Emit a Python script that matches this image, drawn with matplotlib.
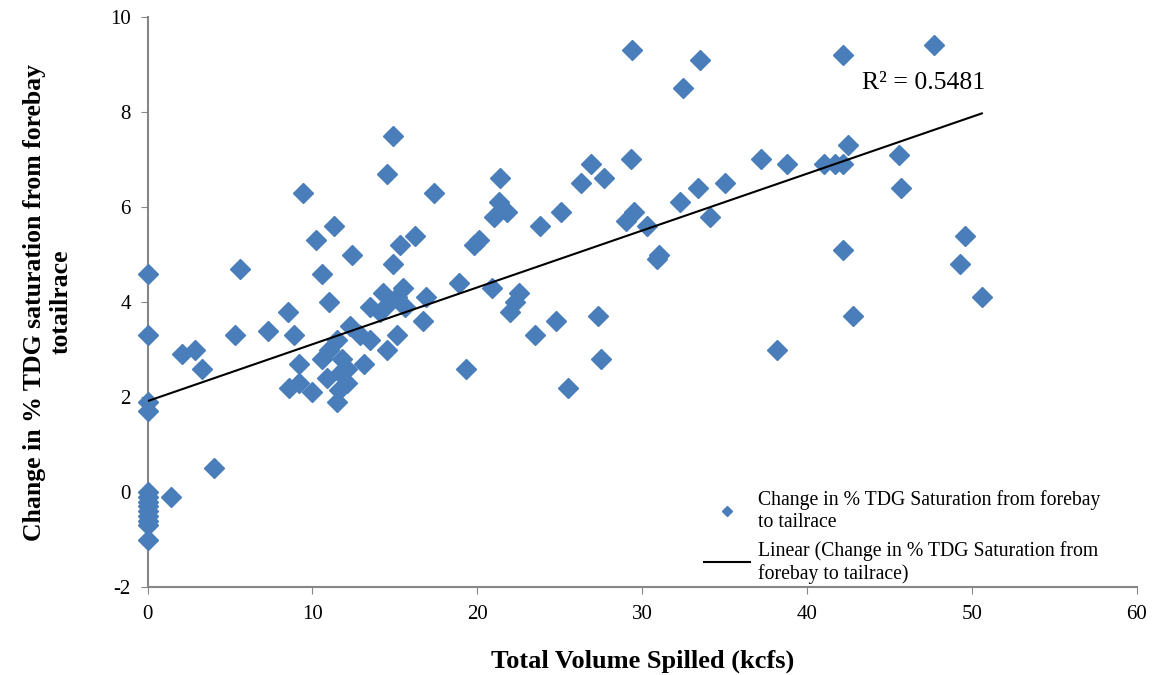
import numpy as np
import matplotlib as mpl
import matplotlib.pyplot as plt

mpl.use("Agg")
plt.rcParams.update(
    {
        "font.family": ["Liberation Serif", "DejaVu Serif"],
        "font.size": 15,
        "axes.unicode_minus": False,
        "axes.spines.top": False,
        "axes.spines.right": False,
        "axes.edgecolor": "#868686",
        "xtick.color": "#868686",
        "ytick.color": "#868686",
        "xtick.labelcolor": "black",
        "ytick.labelcolor": "black",
        "xtick.major.size": 5,
        "ytick.major.size": 5,
        "xtick.major.pad": 8,
        "ytick.major.pad": 7,
    }
)

# spill volume (kcfs) vs change in % TDG saturation
spilled = [
    0, 0, 0, 0, 0, 0, 0, 0, 0, 0, 0, 0, 0, 1.4,
    2.1, 2.9, 3.3, 4.0, 5.3, 5.6, 7.3, 8.5, 8.6, 8.9, 9.2, 9.2, 9.4, 10.0,
    10.2, 10.6, 11.0, 11.3, 12.4, 14.5, 14.9, 15.3, 16.2, 17.4, 16.9, 16.7,
    13.5, 14.3, 15.5, 15.1, 14.7, 14.1, 12.3, 12.9, 13.5, 14.5, 15.1, 11.5,
    11.0, 10.6, 13.1, 11.8, 10.9, 11.7, 12.1, 11.6, 12.1, 11.5, 14.9, 15.6,
    18.9, 19.3, 19.8, 20.1, 20.9, 21.0, 21.3, 21.4, 21.8, 22.0, 22.3, 22.5,
    23.5, 23.8, 24.8, 25.1, 25.5, 26.3, 26.9, 27.3, 27.5, 27.7, 29.0, 29.3,
    29.4, 29.5, 30.3, 30.9, 31.0, 32.3, 32.5, 33.4, 33.5, 34.1, 35.0, 37.2,
    38.2, 38.8, 41.0, 41.7, 42.2, 42.2, 42.2, 42.5, 42.8, 45.6, 45.7, 47.7,
    49.3, 49.6, 50.6,
]
tdg_change = [
    4.6, 3.3, 1.9, 1.7, 0.0, -0.1, -0.2, -0.3, -0.4, -0.5, -0.6, -0.7, -1.0, -0.1,
    2.9, 3.0, 2.6, 0.5, 3.3, 4.7, 3.4, 3.8, 2.2, 3.3, 2.7, 2.3, 6.3, 2.1,
    5.3, 4.6, 4.0, 5.6, 5.0, 6.7, 7.5, 5.2, 5.4, 6.3, 4.1, 3.6,
    3.9, 4.2, 4.3, 4.1, 4.0, 3.8, 3.5, 3.3, 3.2, 3.0, 3.3, 3.2,
    3.0, 2.8, 2.7, 2.8, 2.4, 2.5, 2.6, 2.15, 2.3, 1.9, 4.8, 3.9,
    4.4, 2.6, 5.2, 5.3, 4.3, 5.8, 6.1, 6.6, 5.9, 3.8, 4.0, 4.2,
    3.3, 5.6, 3.6, 5.9, 2.2, 6.5, 6.9, 3.7, 2.8, 6.6, 5.7, 7.0,
    9.3, 5.9, 5.6, 4.9, 5.0, 6.1, 8.5, 6.4, 9.1, 5.8, 6.5, 7.0,
    3.0, 6.9, 6.9, 6.9, 6.9, 9.2, 5.1, 7.3, 3.7, 7.1, 6.4, 9.4,
    4.8, 5.4, 4.1,
]

x = np.array(spilled)
y = np.array(tdg_change)
slope, intercept = np.polyfit(x, y, 1)
x_fit = np.array([0, x.max()])

fig = plt.figure(figsize=(11.53, 6.75), dpi=100)
ax = fig.add_axes([0.128, 0.130, 0.858, 0.845])

ax.plot(
    x, y, linestyle="none", marker="D", markersize=10.5, color="#4A7EBB",
    clip_on=False, zorder=3,
    label="Change in % TDG Saturation from forebay\nto tailrace",
)
ax.plot(
    x_fit, slope * x_fit + intercept, color="black", linewidth=1.5, zorder=4,
    label="Linear (Change in % TDG Saturation from\nforebay to tailrace)",
)
ax.text(43.3, 8.6, "R² = 0.5481", fontsize=18.5, va="center")

ax.set_xlim(0, 60)
ax.set_ylim(-2, 10)
ax.set_xticks(np.arange(0, 61, 10))
ax.set_yticks(np.arange(-2, 11, 2))
ax.spines["left"].set_linewidth(1.5)
ax.spines["bottom"].set_linewidth(1.5)

ax.set_xlabel("Total Volume Spilled (kcfs)", fontsize=19, fontweight="bold", labelpad=18)
ax.set_ylabel(
    "Change in % TDG saturation from forebay\ntotailrace",
    fontsize=18.5, fontweight="bold", labelpad=27,
)

ax.legend(
    loc="lower left", bbox_to_anchor=(0.545, -0.025), frameon=False,
    markerscale=0.5, handlelength=2.3, handletextpad=0.4, labelspacing=0.45,
    fontsize=14.2,
)

plt.savefig("out.png", dpi=100)
